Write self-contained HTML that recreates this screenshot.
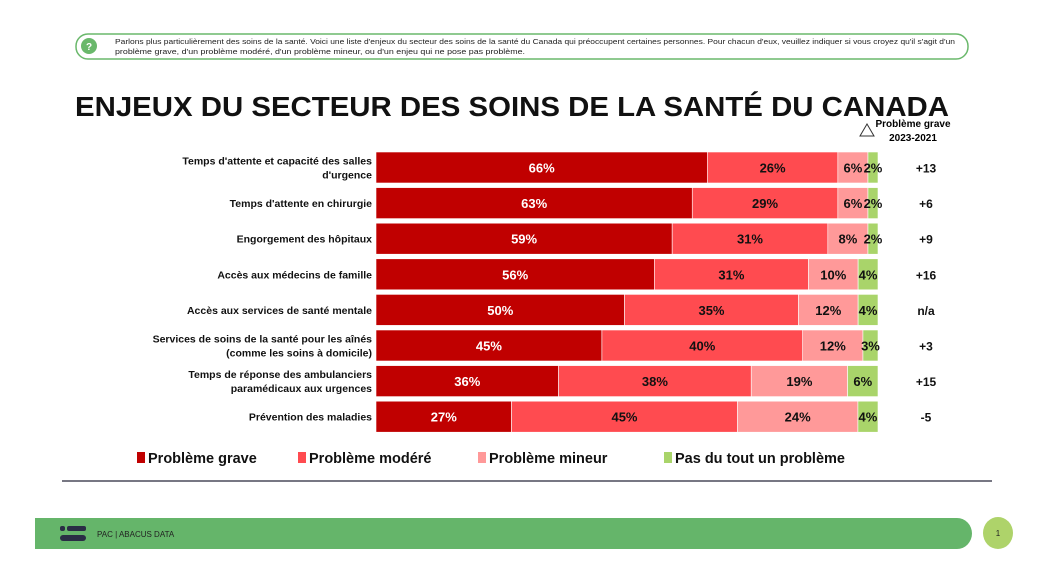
<!DOCTYPE html>
<html><head><meta charset="utf-8"><style>
body{margin:0;width:1050px;height:576px;background:#fff;overflow:hidden;font-family:"Liberation Sans",sans-serif;}
svg text{font-family:"Liberation Sans",sans-serif;}
</style></head><body>
<svg id="c" width="1050" height="576" xmlns="http://www.w3.org/2000/svg">
<rect x="76" y="34" width="892" height="25" rx="12" fill="#fff" stroke="#6ab86b" stroke-width="1.5"/>
<circle cx="89" cy="46" r="8" fill="#6ab86b"/>
<text x="89" y="50" font-size="10" fill="#fff" text-anchor="middle" font-weight="bold">?</text>
<text x="115" y="44" font-size="7.5" fill="#222" textLength="840" lengthAdjust="spacingAndGlyphs">Parlons plus particulièrement des soins de la santé. Voici une liste d'enjeux du secteur des soins de la santé du Canada qui préoccupent certaines personnes. Pour chacun d'eux, veuillez indiquer si vous croyez qu'il s'agit d'un</text>
<text x="115" y="54" font-size="7.5" fill="#222" textLength="410" lengthAdjust="spacingAndGlyphs">problème grave, d'un problème modéré, d'un problème mineur, ou d'un enjeu qui ne pose pas problème.</text>
<text x="75" y="116" font-size="28" font-weight="bold" fill="#111" textLength="874" lengthAdjust="spacingAndGlyphs">ENJEUX DU SECTEUR DES SOINS DE LA SANTÉ DU CANADA</text>
<polygon points="860,136 867,124 874,136" fill="none" stroke="#333" stroke-width="1"/>
<text x="913" y="127" font-size="10" font-weight="bold" text-anchor="middle">Problème grave</text>
<text x="913" y="141" font-size="10" font-weight="bold" text-anchor="middle">2023-2021</text>
<g id="bars"></g>
<g id="legend"></g>
<line x1="62" y1="481" x2="992" y2="481" stroke="#4a4a5a" stroke-width="1.5"/>
<path d="M35,518 H957 A15,15.5 0 0 1 957,549 H35 Z" fill="#65b56a"/>
<rect x="60" y="526" width="5" height="5" rx="2" fill="#2a2d45"/><rect x="67" y="526" width="19" height="5" rx="2" fill="#2a2d45"/>
<rect x="60" y="535" width="26" height="6" rx="3" fill="#2a2d45"/>
<text x="97" y="537" font-size="8" fill="#222">PAC | ABACUS DATA</text>
<ellipse cx="998" cy="533" rx="15" ry="16" fill="#aed36a"/>
<text x="998" y="536" font-size="8" text-anchor="middle" fill="#222">1</text>
</svg>
<script>
const labels=[["Temps d'attente et capacité des salles","d'urgence"],["Temps d'attente en chirurgie"],["Engorgement des hôpitaux"],["Accès aux médecins de famille"],["Accès aux services de santé mentale"],["Services de soins de la santé pour les aînés","(comme les soins à domicile)"],["Temps de réponse des ambulanciers","paramédicaux aux urgences"],["Prévention des maladies"]];
const grave=[66,63,59,56,50,45,36,27];
const modere=[26,29,31,31,35,40,38,45];
const mineur=[6,6,8,10,12,12,19,24];
const pasdutout=[2,2,2,4,4,3,6,4];
const deltas=["+13","+6","+9","+16","n/a","+3","+15","-5"];
const seriesNames=["Problème grave","Problème modéré","Problème mineur","Pas du tout un problème"];
const colors=["#c00000","#ff4b50","#ff9999","#a9d46a"];
const NS="http://www.w3.org/2000/svg";
const x0=376,barW=502,y0=152,step=35.6,bh=31;
const g=document.getElementById('bars');
function mk(t,a,p){const e=document.createElementNS(NS,t);for(const k in a)e.setAttribute(k,a[k]);p.appendChild(e);return e;}
const data=[grave,modere,mineur,pasdutout];
labels.forEach((lab,i)=>{
 const y=y0+i*step;
 const tot=data.reduce((a,s)=>a+s[i],0);
 const xs=v=>v/tot*barW;
 lab.forEach((l,j)=>{const t=mk('text',{x:372,y:y+bh/2+4+(lab.length==2?(j-0.5)*14:0),'font-size':10.5,'font-weight':'bold','text-anchor':'end',fill:'#111'},g);t.textContent=l;
 
 });
 let x=x0;
 data.forEach((s,k)=>{const w=xs(s[i]);
  const r=mk('rect',{x:x,y:y,width:w,height:bh,fill:colors[k],stroke:'#fff','stroke-width':0.6},g);
  
  
  const t=mk('text',{x:x+w/2,y:y+bh/2+5,'font-size':13,'font-weight':'bold','text-anchor':'middle',fill:k==0?'#fff':'#111'},g);
  t.textContent=s[i]+'%';
  
  
  x+=w;});
 const d=mk('text',{x:926,y:y+bh/2+5,'font-size':12,'font-weight':'bold','text-anchor':'middle',fill:'#111'},g);
 d.textContent=deltas[i];
 
 
});
const lg=document.getElementById('legend');
const lx=[137,298,478,664];
seriesNames.forEach((n,k)=>{
 const r=mk('rect',{x:lx[k],y:452,width:8,height:11,fill:colors[k]},lg);
 
 
 const t=mk('text',{x:lx[k]+11,y:463,'font-size':14.5,'font-weight':'bold',fill:'#111'},lg);
 t.textContent=n;
 
 
});
</script>
</body></html>
